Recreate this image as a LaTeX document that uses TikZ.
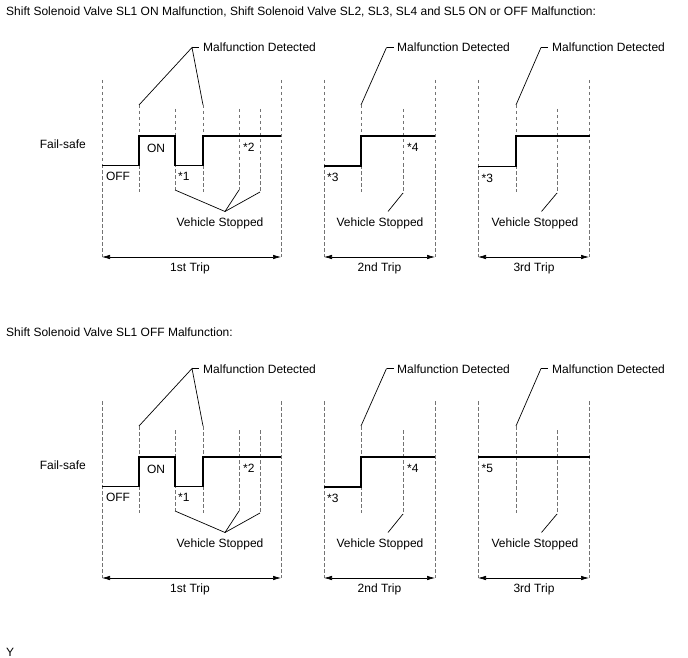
\documentclass[tikz,border=0pt]{standalone}
\usepackage{fontspec}
\setmainfont{Liberation Sans}
\usetikzlibrary{arrows.meta}
\newcommand\commonpanel{%
  % vertical dashed guides (top and bottom points are named)
  \foreach \nm/\xx/\ya/\yb in {a/102/80/257, b/139/105/192, c/175/109/190, d/203/105/192,
      e/239/109/190, f/260/109/192, g/281/80/257, h/324/80/257, i/361/105/192,
      j/403/109/193, k/435/80/257, l/478/80/257, m/516/105/192, n/557/109/193, o/589/80/257}{%
    \coordinate (\nm t) at (\xx,\ya);
    \coordinate (\nm b) at (\xx,\yb);
    \draw[guide] (\nm t) -- (\nm b);
  }
  % signal, 1st and 2nd trip
  \draw[wave] (102,165.5) -- (139,165.5) -- (139,136) -- (175,136) -- (175,165.5)
              -- (203,165.5) -- (203,136) -- (281,136);
  \draw[wave] (324,166) -- (361,166) -- (361,136) -- (435,136);
  % labels
  \node[txt, anchor=base east] (fs) at (86,148.5) {Fail-safe};
  \node[txt, anchor=base] (off) at (118,180.5) {OFF};
  \node[txt, anchor=base] (on) at (156,152.5) {ON};
  \node[txt, anchor=base west] (s1) at (178,180.5) {*1};
  \node[txt, anchor=base west] (s2) at (243,151) {*2};
  \node[txt, anchor=base west] (s3) at (327,181.5) {*3};
  \node[txt, anchor=base west] (s4) at (407,151.5) {*4};
  % malfunction detected
  \node[txt, anchor=base west] (md1) at (203,52) {Malfunction Detected};
  \node[txt, anchor=base west] (md2) at (397,52) {Malfunction Detected};
  \node[txt, anchor=base west] (md3) at (552,52) {Malfunction Detected};
  \coordinate (k1) at (192,47.5);
  \coordinate (k2) at (386.5,47.5);
  \coordinate (k3) at (541,47.5);
  \draw[lead] (k1) -- ++(7,0);
  \draw[lead] (bt) -- (k1) -- (dt);
  \draw[lead] (k2) -- ++(7,0);
  \draw[lead] (k2) -- (it);
  \draw[lead] (k3) -- ++(7,0);
  \draw[lead] (k3) -- (mt);
  % vehicle stopped
  \node[txt, anchor=base] (vs1) at (220,226) {Vehicle Stopped};
  \node[txt, anchor=base] (vs2) at (380,226) {Vehicle Stopped};
  \node[txt, anchor=base] (vs3) at (535,226) {Vehicle Stopped};
  \coordinate (v1) at (225,211.5);
  \coordinate (v2) at (388,211.5);
  \coordinate (v3) at (541.5,211.5);
  \draw[lead] (cb) -- (v1) -- (eb);
  \draw[lead] (v1) -- (fb);
  \draw[lead] (v2) -- (jb);
  \draw[lead] (v3) -- (nb);
  % trips
  \draw[span] (ab) -- (gb);
  \draw[span] (hb) -- (kb);
  \draw[span] (lb) -- (ob);
  \node[txt, anchor=base] (t1) at (190,271.5) {1st Trip};
  \node[txt, anchor=base] (t2) at (379.5,271.5) {2nd Trip};
  \node[txt, anchor=base] (t3) at (534,271.5) {3rd Trip};
}
\begin{document}
\begin{tikzpicture}[x=1pt,y=-1pt,
  txt/.style={inner sep=0pt, font=\fontsize{12}{14}\selectfont},
  guide/.style={draw=black!55, line width=0.6pt, dash pattern=on 3.5pt off 2.5pt},
  wave/.style={line width=1.5pt, line join=miter},
  lead/.style={line width=0.7pt},
  span/.style={line width=0.7pt, {Latex[length=8pt,width=4.5pt]}-{Latex[length=8pt,width=4.5pt]}}
]
\useasboundingbox (0,0) rectangle (688,658);
\begin{scope}[name prefix=A-]
  \node[txt, anchor=base west] (title) at (6,16) {Shift Solenoid Valve SL1 ON Malfunction, Shift Solenoid Valve SL2, SL3, SL4 and SL5 ON or OFF Malfunction:};
  \commonpanel
  \draw[wave] (478,166.5) -- (516,166.5) -- (516,136) -- (590,136);
  \node[txt, anchor=base west] (s3b) at (481.5,182.5) {*3};
\end{scope}
\begin{scope}[name prefix=B-, shift={(0,321)}]
  \node[txt, anchor=base west] (title) at (6,15.5) {Shift Solenoid Valve SL1 OFF Malfunction:};
  \commonpanel
  \draw[wave] (478,136) -- (590,136);
  \node[txt, anchor=base west] (s5) at (481.5,151.5) {*5};
\end{scope}
\node[txt, anchor=base west] (y) at (6,656) {Y};
\end{tikzpicture}
\end{document}
